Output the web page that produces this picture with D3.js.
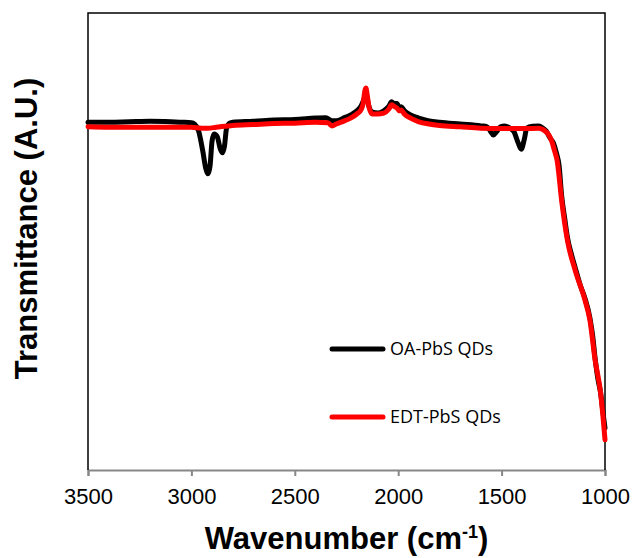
<!DOCTYPE html>
<meta charset="utf-8">
<script src="https://d3js.org/d3.v7.min.js"></script>
<style>
  body { margin: 0; background: #fff; }
</style>
<div id="my_dataviz"></div>
<script>
    // tick labels of the wavenumber axis
    var xTicks = [3500, 3000, 2500, 2000, 1500, 1000];

    // OA-PbS QDs spectrum (wavenumber, transmittance in arbitrary units)
    var oaWave = [3500, 3400, 3300, 3200, 3100, 3050, 3000, 2985, 2965, 2945, 2930, 2920, 2910, 2900, 2890, 2875, 2860, 2850, 2840, 2830, 2815, 2800,
        2700, 2600, 2500, 2400, 2350, 2320, 2300, 2260, 2230, 2200, 2180, 2165, 2156, 2145, 2125, 2100, 2070, 2045, 2032, 2020, 2006, 1995, 1985,
        1970, 1940, 1900, 1850, 1800, 1700, 1600, 1570, 1555, 1540, 1525, 1505, 1485, 1460, 1440, 1420, 1405, 1390, 1378, 1350, 1320, 1300, 1285,
        1265, 1250, 1235, 1222, 1210, 1195, 1182, 1160, 1145, 1120, 1097, 1073, 1060, 1048, 1035, 1021, 1010, 1000];
    var oaT = [76.1, 76.1, 76.2, 76.3, 76.2, 76.1, 76.0, 75.7, 74.2, 69.8, 65.9, 64.8, 66.5, 72.0, 73.5, 72.9, 70.2, 69.4, 70.9, 74.8, 75.9, 76.1,
        76.3, 76.6, 76.7, 77.0, 77.1, 76.4, 76.4, 77.1, 77.7, 78.6, 79.6, 81.2, 82.5, 80.1, 78.3, 78.1, 78.6, 79.6, 80.6, 80.2, 80.2, 79.3, 79.5,
        78.6, 77.7, 77.0, 76.4, 76.1, 75.7, 75.3, 75.1, 74.2, 73.3, 74.0, 75.1, 75.3, 74.8, 74.0, 71.6, 70.2, 72.4, 74.8, 75.2, 75.3, 74.8, 74.2,
        72.6, 71.6, 69.4, 66.6, 60.2, 55.1, 51.0, 46.8, 44.4, 40.5, 37.6, 33.3, 29.5, 24.5, 20.1, 16.8, 12.7, 9.2];

    // EDT-PbS QDs spectrum
    var edtWave = [3500, 3400, 3300, 3200, 3100, 3000, 2950, 2920, 2880, 2800, 2700, 2600, 2500, 2400, 2340, 2320, 2300, 2260, 2230, 2200, 2180,
        2170, 2160, 2156, 2150, 2140, 2125, 2100, 2070, 2045, 2032, 2020, 2006, 1995, 1985, 1970, 1940, 1900, 1850, 1800, 1700, 1600, 1500, 1400,
        1320, 1300, 1285, 1270, 1258, 1245, 1231, 1210, 1182, 1145, 1097, 1073, 1048, 1021, 1010, 1000];
    var edtT = [75.1, 75.0, 75.0, 75.0, 75.0, 75.0, 74.8, 74.8, 75.0, 75.4, 75.6, 75.8, 75.9, 76.1, 76.0, 75.3, 75.7, 76.4, 77.0, 77.9, 78.8,
        80.1, 83.2, 83.6, 82.1, 79.2, 77.9, 77.9, 78.1, 79.0, 79.9, 79.6, 79.2, 78.6, 78.8, 77.9, 77.0, 76.2, 75.7, 75.4, 75.1, 74.8, 74.7, 74.7,
        74.8, 74.5, 74.0, 73.2, 72.0, 70.0, 67.6, 59.1, 50.3, 43.8, 37.2, 32.8, 24.1, 16.8, 11.8, 6.6];

    var series = [
        { name: "OA-PbS QDs", color: "#000000", wave: oaWave, t: oaT },
        { name: "EDT-PbS QDs", color: "#ff0000", wave: edtWave, t: edtT }
    ];

    var margin = { top: 13, right: 31, bottom: 88, left: 88 },
        width = 636 - margin.left - margin.right,
        height = 558 - margin.top - margin.bottom;

    var svg = d3.select("#my_dataviz")
        .append("svg")
        .attr("width", 636)
        .attr("height", 558)
        .append("g")
        .attr("transform", "translate(" + margin.left + "," + margin.top + ")");

    var x = d3.scaleLinear().domain([3500, 1000]).range([0, width]);
    var y = d3.scaleLinear().domain([0, 100]).range([height, 0]);

    // X axis
    var xAxis = svg.append("g")
        .attr("transform", "translate(0," + height + ")")
        .call(d3.axisBottom(x).tickValues(xTicks).tickSize(6).tickFormat(d3.format("d")));
    xAxis.select(".domain").attr("stroke", "#878787").attr("stroke-width", 2);
    xAxis.selectAll(".tick line").attr("stroke", "#878787").attr("stroke-width", 2);
    xAxis.selectAll("text")
        .attr("y", 18)
        .style("font-family", "'Liberation Sans', Arial, sans-serif")
        .style("font-size", "22px")
        .attr("fill", "#000");

    // frame: left, top, right
    svg.append("path")
        .attr("d", "M0," + height + "V0H" + width + "V" + height)
        .attr("fill", "none")
        .attr("stroke", "#000")
        .attr("stroke-width", 1.5);

    // lines
    var line = d3.line()
        .x(function (d) { return x(d[0]); })
        .y(function (d) { return y(d[1]); })
        .curve(d3.curveMonotoneX);

    series.forEach(function (s) {
        var pts = s.wave.map(function (w, i) { return [w, s.t[i]]; });
        svg.append("path")
            .datum(pts)
            .attr("fill", "none")
            .attr("stroke", s.color)
            .attr("stroke-width", 5)
            .attr("stroke-linejoin", "round")
            .attr("stroke-linecap", "round")
            .attr("d", line);
    });

    // legend
    var legend = svg.selectAll(".legend")
        .data(series)
        .enter()
        .append("g")
        .attr("transform", function (d, i) { return "translate(244," + (336 + i * 68) + ")"; });
    legend.append("line")
        .attr("x1", 0).attr("x2", 51)
        .attr("stroke", function (d) { return d.color; })
        .attr("stroke-width", 5)
        .attr("stroke-linecap", "round");
    legend.append("text")
        .attr("x", 58)
        .attr("y", 6)
        .style("font-family", "'Open Sans', 'Noto Sans', sans-serif")
        .style("font-size", "18px")
        .text(function (d) { return d.name; });

    // axis titles
    var title = svg.append("text")
        .attr("x", width / 2 - 0)
        .attr("y", height + 79)
        .attr("text-anchor", "middle")
        .style("font-family", "'Liberation Sans', Arial, sans-serif")
        .style("font-size", "31px")
        .style("font-weight", "bold");
    title.append("tspan").text("Wavenumber (cm");
    title.append("tspan").attr("dy", -11).style("font-size", "18px").text("-1");
    title.append("tspan").attr("dy", 11).text(")");

    svg.append("text")
        .attr("transform", "translate(" + (-51) + "," + (height / 2 - 13) + ")rotate(-90)")
        .attr("text-anchor", "middle")
        .style("font-family", "'Liberation Sans', Arial, sans-serif")
        .style("font-size", "31px")
        .style("font-weight", "bold")
        .text("Transmittance (A.U.)");
</script>
